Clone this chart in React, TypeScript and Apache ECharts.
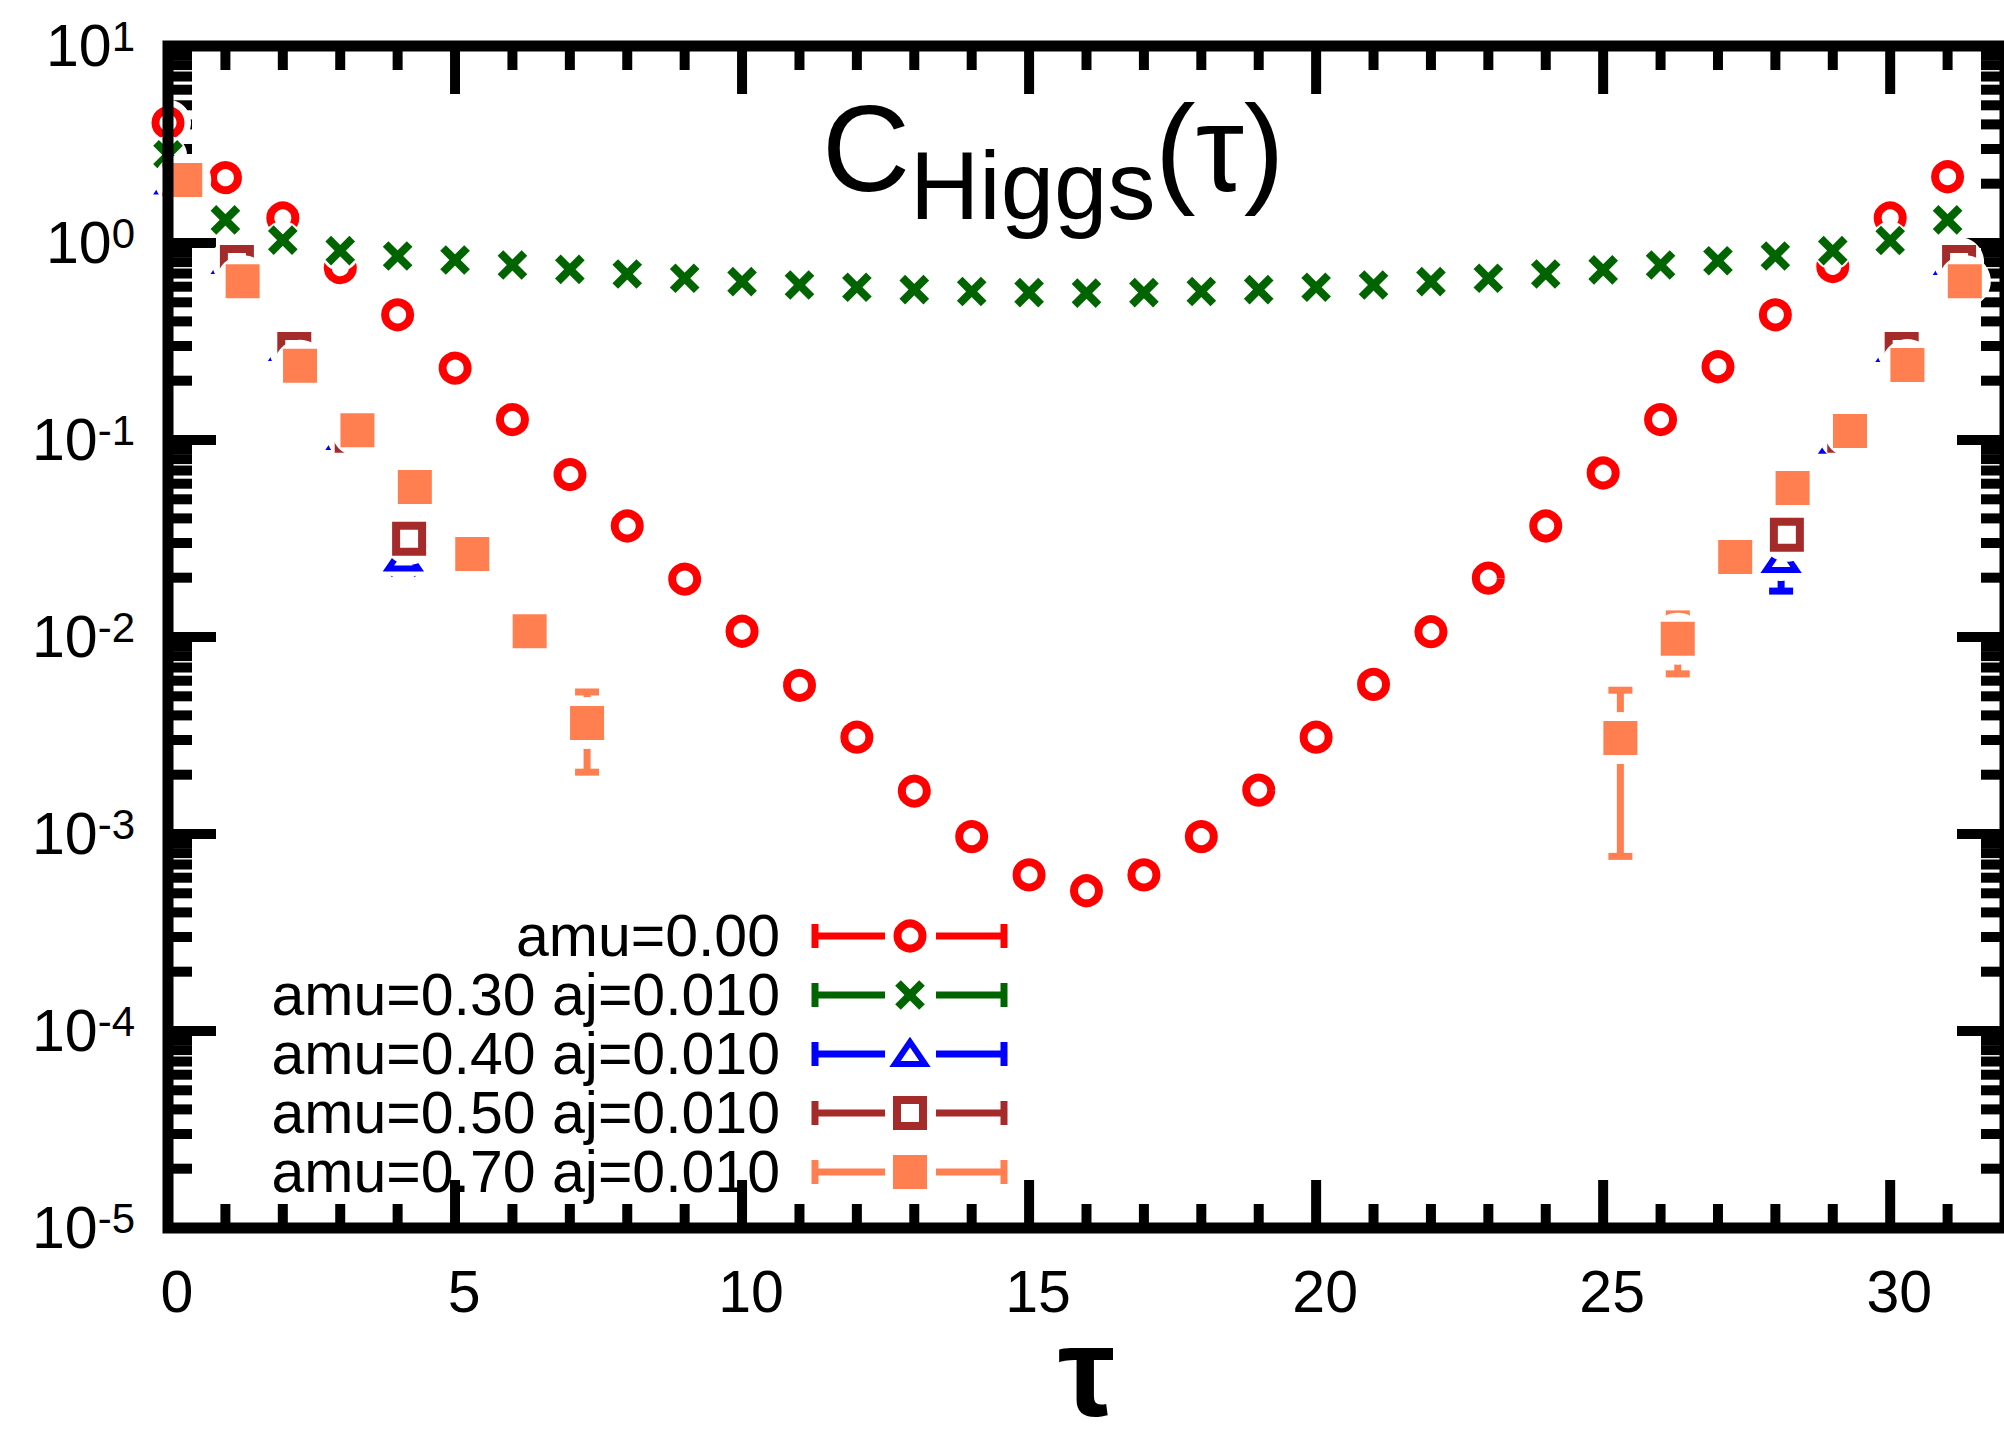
import React, { useEffect, useRef } from 'react';
import * as echarts from 'echarts';

const FONT = '"Liberation Sans", Arial, Helvetica, sans-serif';

// ---- data ----
const tau = [0, 1, 2, 3, 4, 5, 6, 7, 8, 9, 10, 11, 12, 13, 14, 15, 16, 17, 18, 19, 20, 21, 22, 23, 24, 25, 26, 27, 28, 29, 30, 31];

const cAmu000 = [4.08, 2.17, 1.34, 0.76, 0.432, 0.2355, 0.127, 0.068, 0.0366, 0.0199, 0.0107, 0.00575, 0.0031, 0.00167, 0.00097, 0.00062, 0.000515, 0.00062, 0.00097, 0.00167, 0.0031, 0.00575, 0.01064, 0.0199, 0.0366, 0.068, 0.127, 0.2355, 0.432, 0.76, 1.34, 2.17];

const cAmu030 = [2.8, 1.31, 1.035, 0.914, 0.859, 0.82, 0.773, 0.735, 0.696, 0.662, 0.637, 0.612, 0.596, 0.58, 0.567, 0.56, 0.557, 0.56, 0.567, 0.58, 0.596, 0.612, 0.637, 0.662, 0.696, 0.73, 0.773, 0.813, 0.859, 0.914, 1.03, 1.31];

const tauAmu040 = [0, 1, 2, 3, 4, 28, 29, 30, 31];
const cAmu040 = [2.05, 0.81, 0.293, 0.1035, 0.025, 0.0246, 0.099, 0.29, 0.8];
const eAmu040 = [0.02, 0.01, 0.004, 0.002, 0.004, 0.0075, 0.002, 0.004, 0.01];

const tauAmu050 = [0, 1, 2, 3, 4, 28, 29, 30, 31];
const cAmu050 = [2.1, 0.8, 0.29, 0.105, 0.0315, 0.033, 0.105, 0.29, 0.8];
const eAmu050 = [0.02, 0.01, 0.004, 0.002, 0.002, 0.002, 0.002, 0.004, 0.01];

const tauAmu070 = [0, 1, 2, 3, 4, 5, 6, 7, 25, 26, 27, 28, 29, 30, 31];
const cAmu070 = [2.09, 0.64, 0.238, 0.112, 0.0577, 0.0264, 0.0107, 0.00366, 0.00307, 0.0098, 0.0255, 0.057, 0.111, 0.24, 0.64];
const eAmu070 = [0.02, 0.01, 0.004, 0.002, 0.0015, 0.0015, 0.0012, 0.0016, 0.0023, 0.0033, 0.0015, 0.0015, 0.002, 0.004, 0.01];

// ---- ticks ----
const xMajorTicks = [0, 5, 10, 15, 20, 25, 30];
const xMinorTicks = [1, 2, 3, 4, 6, 7, 8, 9, 11, 12, 13, 14, 16, 17, 18, 19, 21, 22, 23, 24, 26, 27, 28, 29, 31];
const yDecades = [1e-5, 1e-4, 1e-3, 1e-2, 1e-1, 1, 10];
const yMinorMantissas = [2, 3, 4, 5, 6, 7, 8, 9];

const X_MIN = 0;
const X_MAX = 32;
const Y_MIN = 1e-5;
const Y_MAX = 10;

type Def = {
  name: string;
  tau: number[];
  c: number[];
  err: number[] | null;
  shift: number;
  kind: string;
  color: string;
  halo: number;
};

const seriesDefs: Def[] = [
  { name: 'amu=0.00', tau: tau, c: cAmu000, err: null, shift: 0, kind: 'circle', color: '#ff0000', halo: 23 },
  { name: 'amu=0.30 aj=0.010', tau: tau, c: cAmu030, err: null, shift: 0, kind: 'cross', color: '#006400', halo: 19 },
  { name: 'amu=0.40 aj=0.010', tau: tauAmu040, c: cAmu040, err: eAmu040, shift: 0.1, kind: 'triangle', color: '#0000ff', halo: 21 },
  { name: 'amu=0.50 aj=0.010', tau: tauAmu050, c: cAmu050, err: eAmu050, shift: 0.2, kind: 'square', color: '#a52a2a', halo: 25 },
  { name: 'amu=0.70 aj=0.010', tau: tauAmu070, c: cAmu070, err: eAmu070, shift: 0.3, kind: 'filledSquare', color: '#ff7f50', halo: 26 },
];

function lineEl(x1: number, y1: number, x2: number, y2: number, color: string, w: number) {
  return { type: 'line', shape: { x1, y1, x2, y2 }, style: { stroke: color, lineWidth: w, lineCap: 'butt' } };
}

function markerEls(kind: string, cx: number, cy: number, color: string): any[] {
  switch (kind) {
    case 'circle':
      return [{ type: 'circle', shape: { cx, cy, r: 12.5 }, style: { fill: 'none', stroke: color, lineWidth: 8 } }];
    case 'cross':
      return [
        lineEl(cx - 12, cy - 12, cx + 12, cy + 12, color, 8),
        lineEl(cx - 12, cy + 12, cx + 12, cy - 12, color, 8),
      ];
    case 'triangle':
      return [{
        type: 'polygon',
        shape: { points: [[cx, cy - 12], [cx - 15, cy + 10], [cx + 15, cy + 10]] },
        style: { fill: 'none', stroke: color, lineWidth: 6, lineJoin: 'miter' },
      }];
    case 'square':
      return [{ type: 'rect', shape: { x: cx - 13, y: cy - 13, width: 26, height: 26 }, style: { fill: 'none', stroke: color, lineWidth: 8 } }];
    default:
      return [{ type: 'rect', shape: { x: cx - 17, y: cy - 17, width: 34, height: 34 }, style: { fill: color } }];
  }
}

function buildOption() {
  const tickSeries = {
    type: 'custom',
    silent: true,
    z: 1,
    data: [[X_MIN, Y_MIN]],
    renderItem: (_params: any, api: any) => {
      const children: any[] = [];
      const [x0, yb] = api.coord([X_MIN, Y_MIN]);
      const [x1, yt] = api.coord([X_MAX, Y_MAX]);
      const add = (v: number, len: number, isX: boolean) => {
        if (isX) {
          const x = api.coord([v, Y_MIN])[0];
          children.push(lineEl(x, yb, x, yb - len, '#000', 10));
          children.push(lineEl(x, yt, x, yt + len, '#000', 10));
        } else {
          const y = api.coord([X_MIN, v])[1];
          children.push(lineEl(x0, y, x0 + len, y, '#000', 10));
          children.push(lineEl(x1, y, x1 - len, y, '#000', 10));
        }
      };
      xMajorTicks.forEach((v) => add(v, 48, true));
      xMinorTicks.forEach((v) => add(v, 24, true));
      yDecades.forEach((d, i) => {
        add(d, 48, false);
        if (i < yDecades.length - 1) yMinorMantissas.forEach((m) => add(m * d, 24, false));
      });
      return { type: 'group', children };
    },
  };

  const dataSeries = seriesDefs.map((d, si) => ({
    type: 'custom',
    name: d.name,
    silent: true,
    z: 2 + si,
    dimensions: ['tau', 'C', 'err'],
    encode: { x: 0, y: 1 },
    data: d.tau.map((t, i) => [t + d.shift, d.c[i], d.err ? d.err[i] : 0]),
    renderItem: (_params: any, api: any) => {
      const x = api.value(0);
      const y = api.value(1);
      const e = api.value(2);
      const [cx, cy] = api.coord([x, y]);
      const children: any[] = [];
      if (e > 0) {
        const yTop = api.coord([x, y + e])[1];
        const yBot = api.coord([x, y - e])[1];
        children.push(lineEl(cx, yTop, cx, yBot, d.color, 7));
        children.push(lineEl(cx - 12, yTop, cx + 12, yTop, d.color, 7));
        children.push(lineEl(cx - 12, yBot, cx + 12, yBot, d.color, 7));
      }
      children.push({ type: 'circle', shape: { cx, cy, r: d.halo }, style: { fill: '#ffffff' } });
      markerEls(d.kind, cx, cy, d.color).forEach((el) => children.push(el));
      return { type: 'group', children };
    },
  }));

  // legend drawn as graphic
  const LEG_TEXT_X = 780;
  const LEG_Y0 = 936;
  const LEG_DY = 59;
  const legendEls: any[] = [];
  seriesDefs.forEach((d, i) => {
    const y = LEG_Y0 + i * LEG_DY;
    legendEls.push({
      type: 'text',
      x: LEG_TEXT_X,
      y,
      style: { text: d.name, fontSize: 59, lineHeight: 50, fontFamily: FONT, fill: '#000', align: 'right', verticalAlign: 'middle' },
    });
    legendEls.push(lineEl(815, y, 885, y, d.color, 7));
    legendEls.push(lineEl(936, y, 1004, y, d.color, 7));
    legendEls.push(lineEl(815, y - 12, 815, y + 12, d.color, 7));
    legendEls.push(lineEl(1004, y - 12, 1004, y + 12, d.color, 7));
    markerEls(d.kind, 910, y, d.color).forEach((el) => legendEls.push(el));
  });

  const titleEls = [
    { type: 'text', x: 822, y: 149, style: { text: 'C', fontSize: 122, fontFamily: FONT, fill: '#000', align: 'left', verticalAlign: 'middle' } },
    { type: 'text', x: 910, y: 185, style: { text: 'Higgs', fontSize: 96, fontFamily: FONT, fill: '#000', align: 'left', verticalAlign: 'middle' } },
    { type: 'text', x: 1155, y: 149, style: { text: '(τ)', fontSize: 122, fontFamily: FONT, fill: '#000', align: 'left', verticalAlign: 'middle' } },
  ];

  return {
    animation: false,
    backgroundColor: '#ffffff',
    grid: {
      left: 168,
      top: 46,
      right: -1,
      bottom: 207,
      show: true,
      borderWidth: 11,
      borderColor: '#000',
      backgroundColor: 'transparent',
      z: 10,
      containLabel: false,
      outerBoundsMode: 'none',
    },
    xAxis: {
      type: 'value',
      min: X_MIN,
      max: X_MAX,
      interval: 5,
      axisLine: { show: false },
      axisTick: { show: false },
      splitLine: { show: false },
      axisLabel: {
        fontSize: 59,
        fontFamily: FONT,
        color: '#000',
        margin: 34,
        padding: [0, 0, 0, 18],
        showMaxLabel: false,
        formatter: (v: number) => (v % 5 === 0 ? String(v) : ''),
      },
      name: 'τ',
      nameLocation: 'middle',
      nameGap: 95,
      nameMoveOverlap: false,
      nameTextStyle: { fontSize: 128, lineHeight: 96, fontWeight: 'bold', fontFamily: FONT, color: '#000' },
    },
    yAxis: {
      type: 'log',
      logBase: 10,
      min: Y_MIN,
      max: Y_MAX,
      splitNumber: 6,
      axisLine: { show: false },
      axisTick: { show: false },
      splitLine: { show: false },
      minorTick: { show: false },
      axisLabel: {
        margin: 33,
        color: '#000',
        formatter: (v: number) => {
          const e = Math.round(Math.log10(v));
          return '{m|10}{s|' + e + '}';
        },
        rich: {
          m: { fontSize: 59, fontFamily: FONT, color: '#000', lineHeight: 62 },
          s: { fontSize: 42, fontFamily: FONT, color: '#000', lineHeight: 30, verticalAlign: 'top' },
        },
      },
    },
    graphic: [...titleEls, ...legendEls],
    series: [tickSeries, ...dataSeries],
  };
}

export default function App() {
  const ref = useRef<HTMLDivElement>(null);
  useEffect(() => {
    document.body.style.margin = '0';
    if (!ref.current) return;
    const chart = echarts.init(ref.current, null, { renderer: 'svg' });
    chart.setOption(buildOption() as any);
    return () => chart.dispose();
  }, []);
  return <div ref={ref} style={{ width: 2004, height: 1435, background: '#fff' }} />;
}
